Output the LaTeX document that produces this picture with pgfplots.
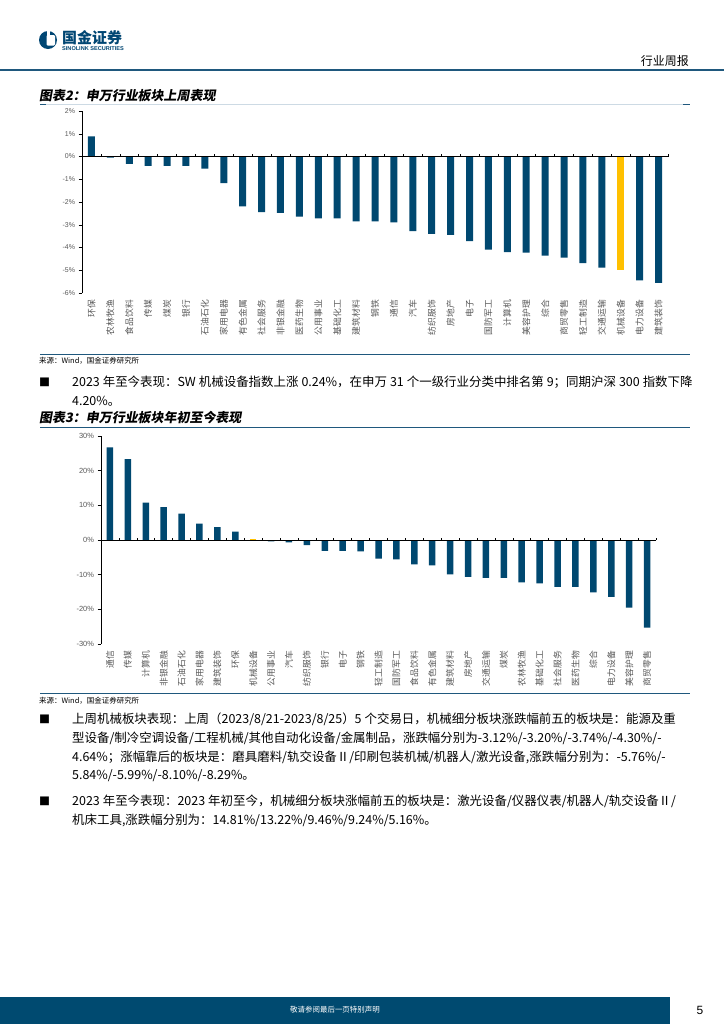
\documentclass[border=0pt]{standalone}
\usepackage{fontspec}
\setmainfont{Noto Sans CJK SC}
\newfontfamily\cjk{Noto Sans CJK SC}
\newfontfamily\cjkti[FakeSlant=0.18]{Noto Sans CJK SC}
\newfontfamily\arial{Liberation Sans}
\usepackage{pgfplots}
\pgfplotsset{compat=1.18}
\XeTeXlinebreaklocale "zh"
\XeTeXlinebreakskip=0pt plus 1fil
\definecolor{barblue}{RGB}{0,72,112}
\definecolor{baryel}{RGB}{255,192,0}
\definecolor{hdrblue}{RGB}{31,88,125}
\definecolor{logoblue}{RGB}{0,70,115}
\definecolor{lightline}{RGB}{205,218,228}
\definecolor{tickgrey}{RGB}{89,89,89}
\definecolor{footblue}{RGB}{0,74,112}
\newcommand{\bodyfont}{\cjk\fontsize{12.5}{13}\selectfont}
\newcommand{\gap}{\kern3bp}
\begin{document}
\begin{tikzpicture}[x=1bp,y=-1bp]
\path[fill=white,use as bounding box] (0,0) rectangle (724,1024);
% ---------- header
\fill[logoblue] (48,40) circle (9);
\fill[white, rounded corners=1.2] (46.5,35) rectangle (55,45.5);
\fill[white] (47,30) rectangle (50,35.5);
\node[anchor=west, inner sep=0, text=logoblue, font=\cjk\bfseries\fontsize{15}{15}\selectfont] at (62,38) {国金证券};
\node[anchor=west, inner sep=0, text=logoblue, font=\arial\bfseries\fontsize{5.6}{6}\selectfont] at (62,48.5) {SINOLINK SECURITIES};
\node[anchor=east, inner sep=0, font=\cjk\fontsize{12}{12}\selectfont] at (689,61) {行业周报};
\draw[hdrblue, line width=1.2bp] (0,70) -- (724,70);
% ---------- chart 1 title
\node[anchor=west, inner sep=0, font=\cjkti\bfseries\fontsize{13}{13}\selectfont] at (39,96) {图表2：申万行业板块上周表现};
\draw[lightline, line width=0.8bp] (40,104) -- (690,104);
\draw[hdrblue, line width=1bp] (40,104) -- (46,104);
\draw[hdrblue, line width=1bp] (683,104) -- (690,104);
% ---------- chart 1
\begin{axis}[at={(82bp,-293bp)}, anchor=south west, scale only axis,
 width=586bp, height=182bp,
 xmin=-0.5, xmax=30.5, ymin=-6, ymax=2,
 ybar, bar width=7bp,
 axis y line*=left, axis x line*=bottom, x axis line style={draw=none},
 xtick={0,...,30}, xtick style={draw=none},
 xticklabels={环保,农林牧渔,食品饮料,传媒,煤炭,银行,石油石化,家用电器,有色金属,社会服务,非银金融,医药生物,公用事业,基础化工,建筑材料,钢铁,通信,汽车,纺织服饰,房地产,电子,国防军工,计算机,美容护理,综合,商贸零售,轻工制造,交通运输,机械设备,电力设备,建筑装饰},
 ytick={-6,...,2}, yticklabels={-6\%,-5\%,-4\%,-3\%,-2\%,-1\%,0\%,1\%,2\%},
 tick align=outside, major tick length=3.5bp,
 ytick style={black,line width=0.5pt}, y axis line style={black,line width=0.6pt},
 yticklabel style={font=\arial\fontsize{7}{8}\selectfont, text=tickgrey},
 xticklabel style={rotate=90, anchor=east, font=\cjk\fontsize{8.8}{9}\selectfont, text=tickgrey},
 clip=false]
\addplot[fill=barblue, draw=none, bar shift=0pt] coordinates {
(0,0.88) (1,-0.05) (2,-0.32) (3,-0.41) (4,-0.41) (5,-0.41) (6,-0.53) (7,-1.17)
(8,-2.19) (9,-2.45) (10,-2.48) (11,-2.64) (12,-2.72) (13,-2.72) (14,-2.85) (15,-2.85)
(16,-2.89) (17,-3.28) (18,-3.40) (19,-3.45) (20,-3.72) (21,-4.09) (22,-4.20) (23,-4.23)
(24,-4.36) (25,-4.44) (26,-4.69) (27,-4.88) (29,-5.45) (30,-5.56)};
\addplot[fill=baryel, draw=none, bar shift=0pt] coordinates {(28,-4.99)};
\draw[black, line width=0.6pt] (axis cs:-0.5,0) -- (axis cs:30.5,0);
\pgfplotsinvokeforeach{-0.5,0.5,...,30.5}{\draw[black,line width=0.5pt] (axis cs:#1,0) -- ++(0pt,2.5pt);}
\end{axis}
% ---------- source 1 and text
\draw[hdrblue, line width=0.8bp] (40,354) -- (690,354);
\node[anchor=west, inner sep=0, font=\cjk\fontsize{7.5}{8}\selectfont] at (39,361) {来源：Wind，国金证券研究所};
\node[anchor=west, inner sep=0, font=\cjk\fontsize{11}{11}\selectfont] at (39,382) {■};
\node[anchor=west, inner sep=0, font=\bodyfont] at (72,382) {\makebox[612bp][s]{2023\gap 年至今表现：SW\gap 机械设备指数上涨\gap 0.24\%，在申万\gap 31\gap 个一级行业分类中排名第\gap 9；同期沪深\gap 300\gap 指数下降}};
\node[anchor=west, inner sep=0, font=\bodyfont] at (72,401) {4.20\%。};
% ---------- chart 2 title
\node[anchor=west, inner sep=0, font=\cjkti\bfseries\fontsize{13}{13}\selectfont] at (39,418) {图表3：申万行业板块年初至今表现};
\draw[hdrblue, line width=1bp] (40,427) -- (690,427);
% ---------- chart 2
\begin{axis}[at={(101bp,-644bp)}, anchor=south west, scale only axis,
 width=555bp, height=208bp,
 xmin=-0.5, xmax=30.5, ymin=-30, ymax=30,
 ybar, bar width=6.5bp,
 axis y line*=left, axis x line*=bottom, x axis line style={draw=none},
 xtick={0,...,30}, xtick style={draw=none},
 xticklabels={通信,传媒,计算机,非银金融,石油石化,家用电器,建筑装饰,环保,机械设备,公用事业,汽车,纺织服饰,银行,电子,钢铁,轻工制造,国防军工,食品饮料,有色金属,建筑材料,房地产,交通运输,煤炭,农林牧渔,基础化工,社会服务,医药生物,综合,电力设备,美容护理,商贸零售},
 ytick={-30,-20,...,30}, yticklabels={-30\%,-20\%,-10\%,0\%,10\%,20\%,30\%},
 tick align=outside, major tick length=3.5bp,
 ytick style={black,line width=0.5pt}, y axis line style={black,line width=0.6pt},
 yticklabel style={font=\arial\fontsize{7.5}{8}\selectfont, text=tickgrey},
 xticklabel style={rotate=90, anchor=east, font=\cjk\fontsize{8.8}{9}\selectfont, text=tickgrey},
 clip=false]
\addplot[fill=barblue, draw=none, bar shift=0pt] coordinates {
(0,26.7) (1,23.3) (2,10.8) (3,9.5) (4,7.6) (5,4.7) (6,3.7) (7,2.4)
(9,-0.4) (10,-0.7) (11,-1.5) (12,-3.1) (13,-3.1) (14,-3.3) (15,-5.4) (16,-5.6)
(17,-7.0) (18,-7.3) (19,-9.9) (20,-10.6) (21,-10.9) (22,-10.9) (23,-12.2) (24,-12.5)
(25,-13.5) (26,-13.5) (27,-15.1) (28,-16.4) (29,-19.5) (30,-25.3)};
\addplot[fill=baryel, draw=none, bar shift=0pt] coordinates {(8,0.24)};
\draw[black, line width=0.6pt] (axis cs:-0.5,0) -- (axis cs:30.5,0);
\pgfplotsinvokeforeach{-0.5,0.5,...,30.5}{\draw[black,line width=0.5pt] (axis cs:#1,0) -- ++(0pt,2.5pt);}
\end{axis}
% ---------- source 2 and text
\draw[hdrblue, line width=0.8bp] (40,693) -- (690,693);
\node[anchor=west, inner sep=0, font=\cjk\fontsize{7.5}{8}\selectfont] at (39,701) {来源：Wind，国金证券研究所};
\node[anchor=west, inner sep=0, font=\cjk\fontsize{11}{11}\selectfont] at (39,719) {■};
\node[anchor=west, inner sep=0, font=\bodyfont] at (72,719) {\makebox[612bp][s]{上周机械板块表现：上周（2023/8/21-2023/8/25）5\gap 个交易日，机械细分板块涨跌幅前五的板块是：能源及重}};
\node[anchor=west, inner sep=0, font=\bodyfont] at (72,738) {\makebox[612bp][s]{型设备/制冷空调设备/工程机械/其他自动化设备/金属制品，涨跌幅分别为-3.12\%/-3.20\%/-3.74\%/-4.30\%/-}};
\node[anchor=west, inner sep=0, font=\bodyfont] at (72,757) {\makebox[612bp][s]{4.64\%；涨幅靠后的板块是：磨具磨料/轨交设备Ⅱ/印刷包装机械/机器人/激光设备,涨跌幅分别为：-5.76\%/-}};
\node[anchor=west, inner sep=0, font=\bodyfont] at (72,776) {5.84\%/-5.99\%/-8.10\%/-8.29\%。};
\node[anchor=west, inner sep=0, font=\cjk\fontsize{11}{11}\selectfont] at (39,801) {■};
\node[anchor=west, inner sep=0, font=\bodyfont] at (72,801) {\makebox[612bp][s]{2023\gap 年至今表现：2023\gap 年初至今，机械细分板块涨幅前五的板块是：激光设备/仪器仪表/机器人/轨交设备Ⅱ/}};
\node[anchor=west, inner sep=0, font=\bodyfont] at (72,820) {机床工具,涨跌幅分别为：14.81\%/13.22\%/9.46\%/9.24\%/5.16\%。};
% ---------- footer
\fill[footblue] (0,997) rectangle (670,1024);
\node[text=white, font=\cjk\fontsize{7.5}{8}\selectfont] at (335,1010) {敬请参阅最后一页特别声明};
\node[font=\arial\fontsize{12}{12}\selectfont] at (700,1010) {5};
\end{tikzpicture}
\end{document}
